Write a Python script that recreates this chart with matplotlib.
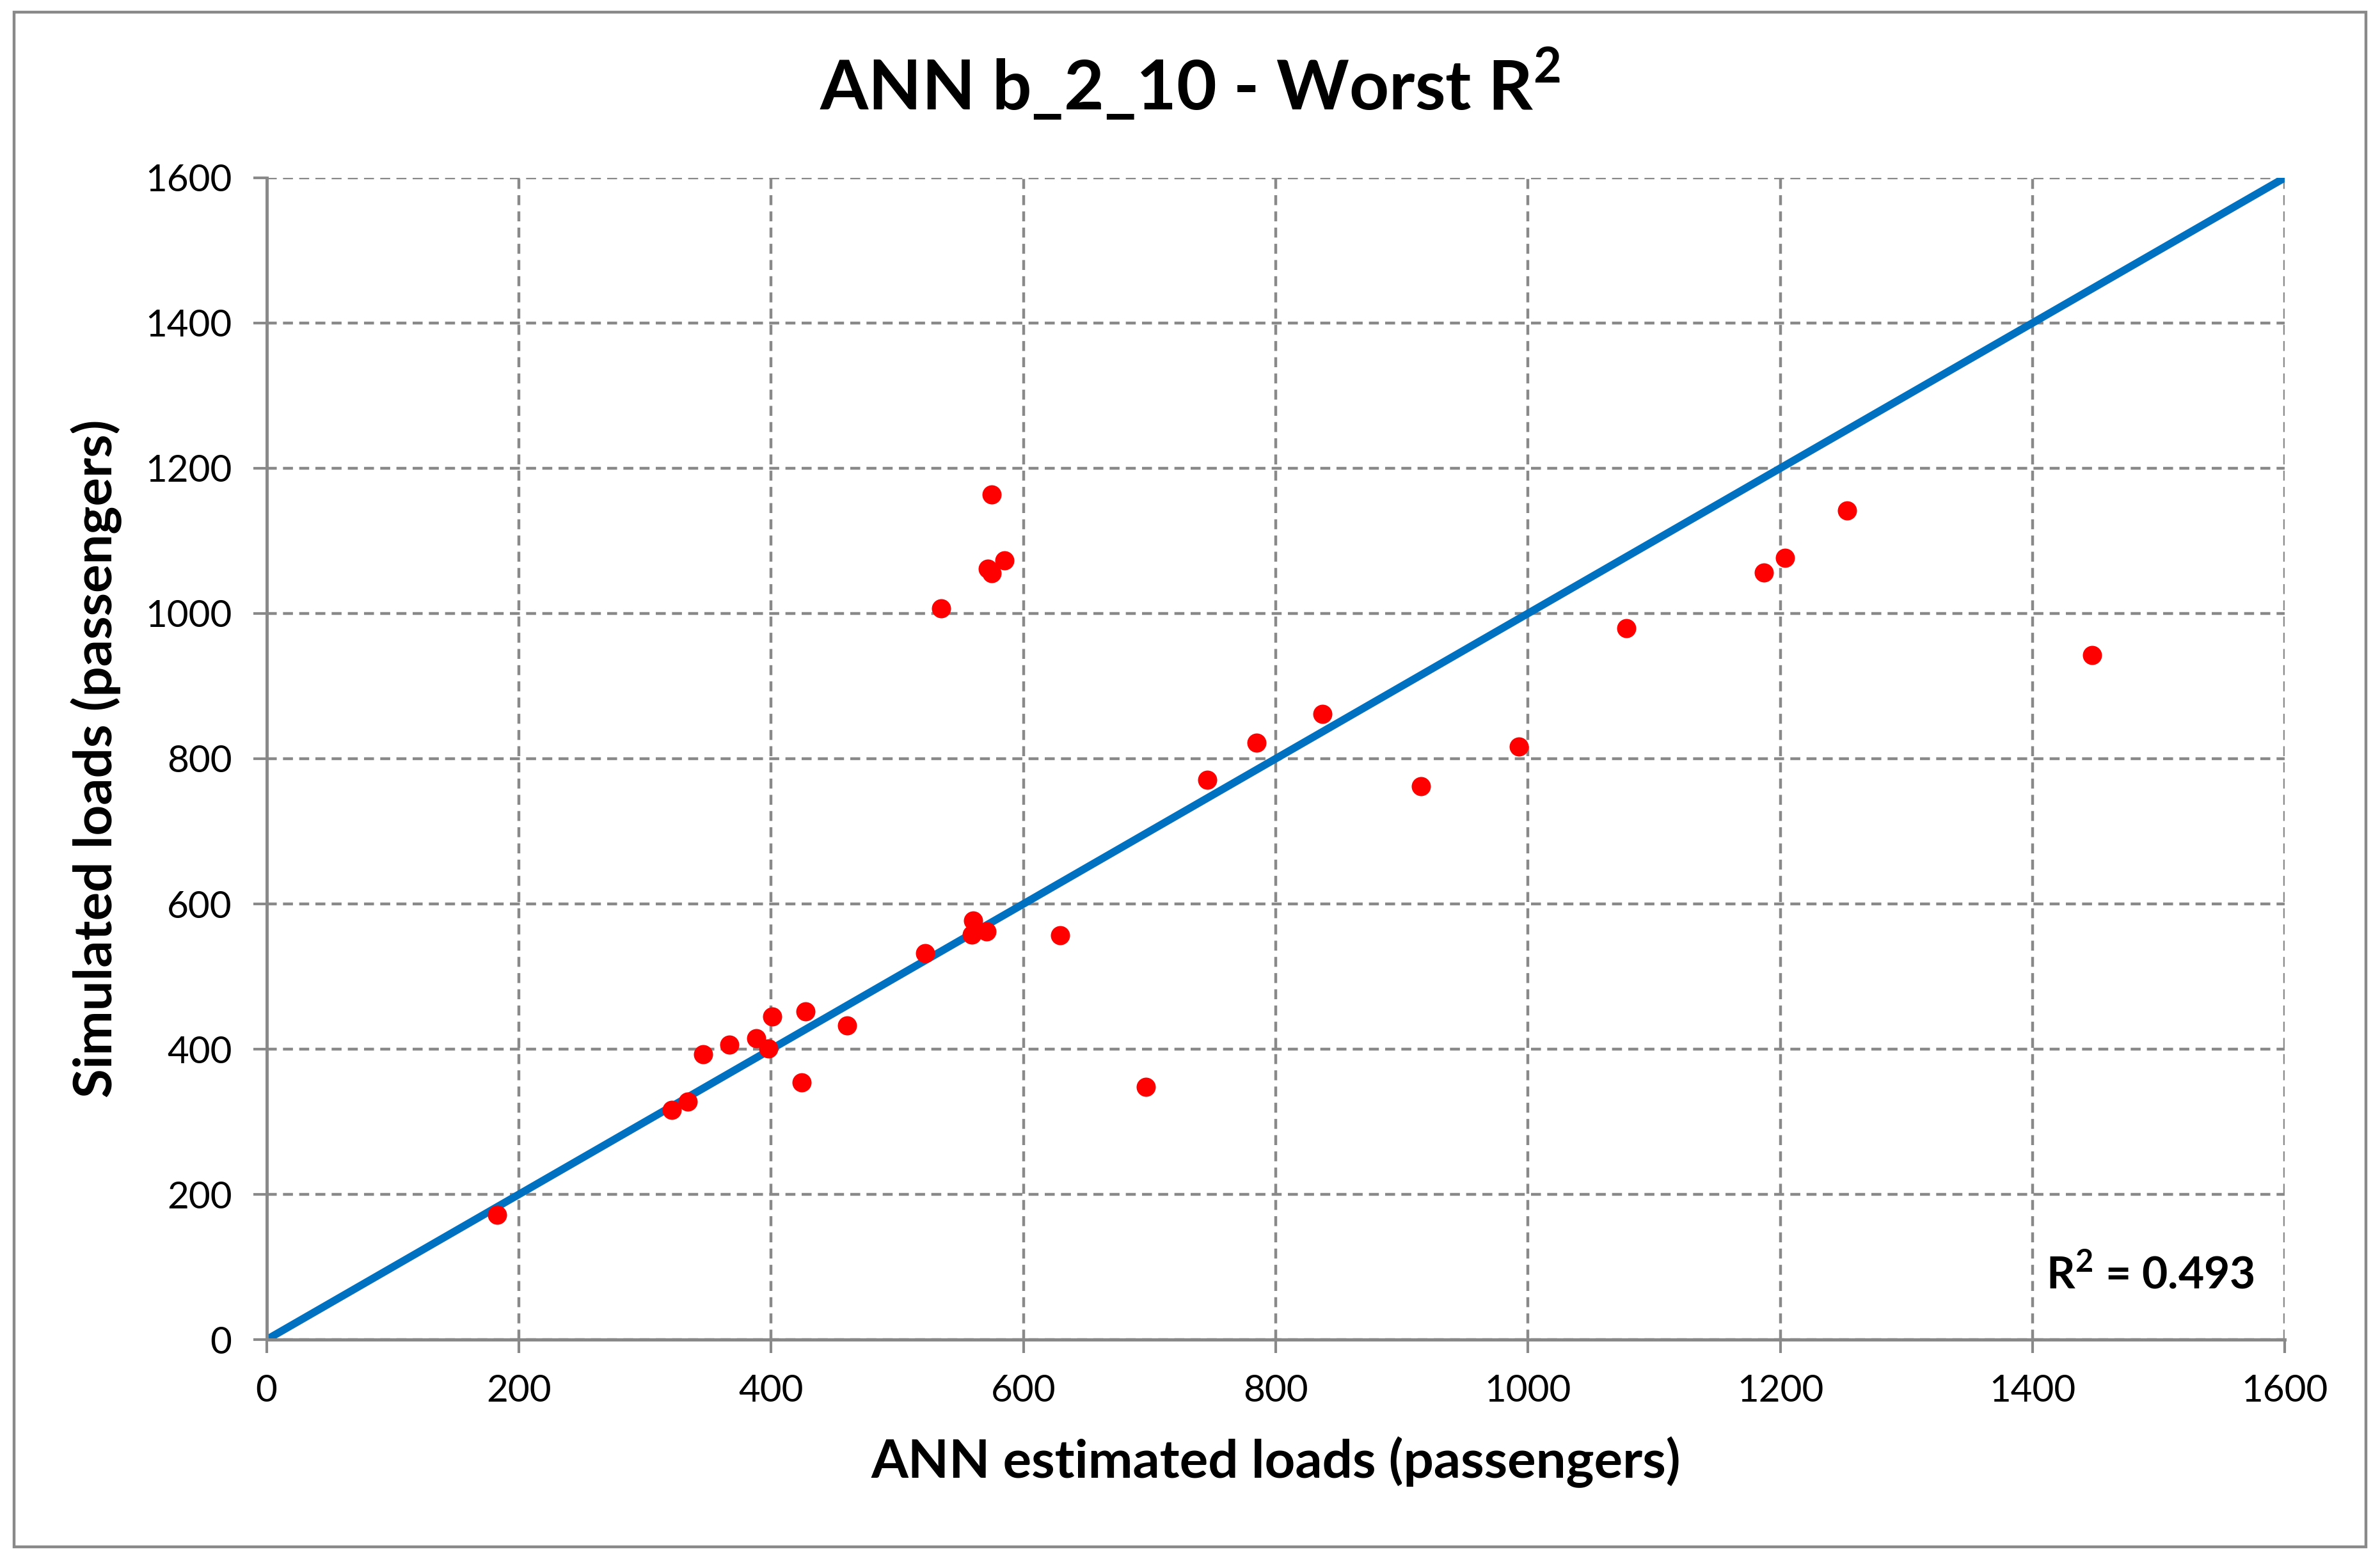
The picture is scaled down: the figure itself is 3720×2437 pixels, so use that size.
import matplotlib
matplotlib.use("Agg")
import matplotlib.pyplot as plt
from matplotlib.patches import Rectangle

plt.rcParams['font.family'] = ['Lato', 'DejaVu Sans']

# ANN estimated loads vs simulated loads (passengers)
ann_est = [183, 321, 334, 346, 367, 388, 398, 401, 427, 424, 460,
           522, 535, 560, 559, 571, 572, 575, 575, 585, 629,
           697, 746, 785, 837, 915, 993, 1078, 1187, 1204, 1253, 1447]
simulated = [172, 316, 328, 393, 406, 415, 401, 445, 452, 354, 433,
             532, 1007, 577, 558, 562, 1062, 1055, 1164, 1073, 557,
             348, 771, 822, 862, 762, 817, 980, 1056, 1077, 1142, 943]
ideal = [0, 1600]
ticks = [0, 200, 400, 600, 800, 1000, 1200, 1400, 1600]
r2_text = "R$^\\mathregular{2}$ = 0.493"

grey = '#898989'

fig = plt.figure(figsize=(18.6, 12.185), dpi=200)
ax = fig.add_axes([0.112, 0.1407, 0.848, 0.7453])

ax.plot(ideal, ideal, color='#0070C0', lw=4.3, zorder=2, solid_capstyle='butt')
ax.plot(ann_est, simulated, 'o', color='#FF0000', ms=10.8, mec='none', zorder=3)

ax.set_xlim(0, 1600)
ax.set_ylim(0, 1600)
ax.set_xticks(ticks)
ax.set_yticks(ticks)
ax.grid(True, color=grey, lw=1.6, linestyle=(0, (3.5, 2.2)))
ax.set_axisbelow(True)

for s in ['top', 'right']:
    ax.spines[s].set_visible(False)
for s in ['left', 'bottom']:
    ax.spines[s].set_color(grey)
    ax.spines[s].set_linewidth(1.8)
ax.tick_params(direction='out', length=7.5, width=1.5, color=grey,
               labelsize=21, pad=12)

ax.set_xlabel('ANN estimated loads (passengers)', fontsize=30, fontweight='bold', labelpad=16)
ax.set_ylabel('Simulated loads (passengers)', fontsize=30, fontweight='bold', labelpad=13)

fig.text(0.5, 0.946, 'ANN b_2_10 - Worst R$^\\mathregular{2}$', ha='center', va='center',
         fontsize=39, fontweight='bold')

ax.text(1576, 89, r2_text, ha='right', va='center', fontsize=25, fontweight='bold')

fig.patches.append(Rectangle((0.006, 0.008), 0.988, 0.984, transform=fig.transFigure,
                             fill=False, edgecolor=grey, lw=1.6))

fig.savefig('out.png', dpi=200)
